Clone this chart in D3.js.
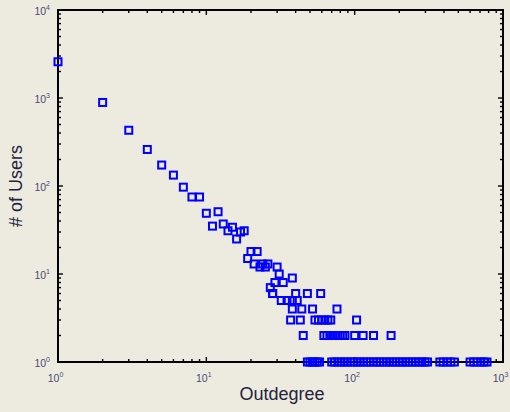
<!DOCTYPE html>
<html>
<head>
<meta charset="utf-8">
<script src="https://cdn.jsdelivr.net/npm/d3@7"></script>
<style>
  body { margin: 0; background: #edeae0; }
  svg { display: block; font-family: "Liberation Sans", Arial, sans-serif; }
</style>
</head>
<body>
<svg id="chart" width="510" height="412"></svg>
<script>
// outdegree values and number of users with that outdegree
const degrees = [
  1, 2, 3, 4, 5, 6, 7, 8, 9, 10, 11, 12, 13, 14, 15, 16, 17, 18, 19, 20, 21, 22,
  23, 24, 25, 26, 27, 28, 29, 30, 31, 33, 38,
  32, 35, 38, 41,
  28, 40, 48, 59,
  38, 44, 52, 76,
  37, 43, 54, 57, 60, 63, 66, 69, 103,
  45, 62, 65, 68, 71, 74, 77, 80, 83, 86, 100, 114, 134, 176
];
const users = [
  2580, 890, 430, 260, 173, 133, 97, 75, 75, 49, 35, 51, 37, 31, 34, 25, 30, 31, 15, 18, 13, 18,
  12, 13, 12, 13, 7, 6, 8, 12, 10, 8, 9,
  5, 5, 5, 5,
  6, 6, 6, 6,
  4, 4, 4, 4,
  3, 3, 3, 3, 3, 3, 3, 3, 3,
  2, 2, 2, 2, 2, 2, 2, 2, 2, 2, 2, 2, 2, 2
];
// degrees that only one user has
const singleDegrees = [
  48, 50, 52, 54, 56, 58,
  70, 73, 77, 81, 85, 89, 94, 99, 104, 109, 115, 121, 127, 134, 141, 148, 156, 164,
  172, 181, 190, 200, 210, 221, 232, 244, 257, 270, 284, 298, 310,
  375, 395, 420, 445, 470,
  600, 635, 670, 710, 745, 780
];
const xTickExps = [0, 1, 2, 3];
const yTickExps = [0, 1, 2, 3, 4];

const svg = d3.select('#chart');
const margin = { left: 58, right: 7, top: 10, bottom: 50 };
const W = 510, H = 412;

const x = d3.scaleLog().domain([1, 1000]).range([margin.left, W - margin.right]);
const y = d3.scaleLog().domain([1, 10000]).range([H - margin.bottom, margin.top]);

const points = degrees.map((d, i) => ({ d, n: users[i] }))
  .concat(singleDegrees.map(d => ({ d, n: 1 })));

const x0 = x.range()[0], x1 = x.range()[1];
const y0 = y.range()[0], y1 = y.range()[1];

// minor + major ticks, pointing inward on all four sides
const xMinor = d3.range(0, 3).flatMap(e => d3.range(2, 10).map(k => k * Math.pow(10, e)));
const yMinor = d3.range(0, 4).flatMap(e => d3.range(2, 10).map(k => k * Math.pow(10, e)));
const xMajor = xTickExps.map(e => Math.pow(10, e));
const yMajor = yTickExps.map(e => Math.pow(10, e));

const ticks = svg.append('g').attr('stroke', '#000').attr('stroke-width', 1.4);
xMinor.forEach(v => {
  ticks.append('line').attr('x1', x(v)).attr('x2', x(v)).attr('y1', y0).attr('y2', y0 - 3);
  ticks.append('line').attr('x1', x(v)).attr('x2', x(v)).attr('y1', y1).attr('y2', y1 + 3);
});
xMajor.forEach(v => {
  ticks.append('line').attr('x1', x(v)).attr('x2', x(v)).attr('y1', y0).attr('y2', y0 - 5);
  ticks.append('line').attr('x1', x(v)).attr('x2', x(v)).attr('y1', y1).attr('y2', y1 + 5);
});
yMinor.forEach(v => {
  ticks.append('line').attr('y1', y(v)).attr('y2', y(v)).attr('x1', x0).attr('x2', x0 + 3);
  ticks.append('line').attr('y1', y(v)).attr('y2', y(v)).attr('x1', x1).attr('x2', x1 - 3);
});
yMajor.forEach(v => {
  ticks.append('line').attr('y1', y(v)).attr('y2', y(v)).attr('x1', x0).attr('x2', x0 + 5);
  ticks.append('line').attr('y1', y(v)).attr('y2', y(v)).attr('x1', x1).attr('x2', x1 - 5);
});

// frame
svg.append('rect')
  .attr('x', x0).attr('y', y1)
  .attr('width', x1 - x0).attr('height', y0 - y1)
  .attr('fill', 'none').attr('stroke', '#000').attr('stroke-width', 2);

// tick labels as 10 with superscript exponent
const labelColor = '#4b4b72';
const xl = svg.append('g').attr('fill', labelColor).attr('font-size', 10.5);
xTickExps.forEach(e => {
  const t = xl.append('text').attr('x', x(Math.pow(10, e)) - 2.5).attr('y', y0 + 20)
    .attr('text-anchor', 'middle');
  t.append('tspan').text('10');
  t.append('tspan').attr('font-size', 7).attr('dy', -5).text(e);
});
const yl = svg.append('g').attr('fill', labelColor).attr('font-size', 10.5);
yTickExps.forEach(e => {
  const t = yl.append('text').attr('x', x0 - 8).attr('y', y(Math.pow(10, e)) + 5)
    .attr('text-anchor', 'end');
  t.append('tspan').text('10');
  t.append('tspan').attr('font-size', 7).attr('dy', -5).text(e);
});

// axis titles
svg.append('text')
  .attr('x', 282).attr('y', 400)
  .attr('text-anchor', 'middle')
  .attr('font-size', 18)
  .attr('fill', '#23233c')
  .text('Outdegree');

svg.append('text')
  .attr('transform', 'translate(22,186) rotate(-90)')
  .attr('text-anchor', 'middle')
  .attr('font-size', 18)
  .attr('fill', '#23233c')
  .text('# of Users');

// square markers
svg.append('g')
  .selectAll('rect')
  .data(points)
  .join('rect')
  .attr('x', d => x(d.d) - 3.5)
  .attr('y', d => y(d.n) - 3.5)
  .attr('width', 7)
  .attr('height', 7)
  .attr('fill', 'none')
  .attr('stroke', '#0000ff')
  .attr('stroke-width', 2);
</script>
</body>
</html>
